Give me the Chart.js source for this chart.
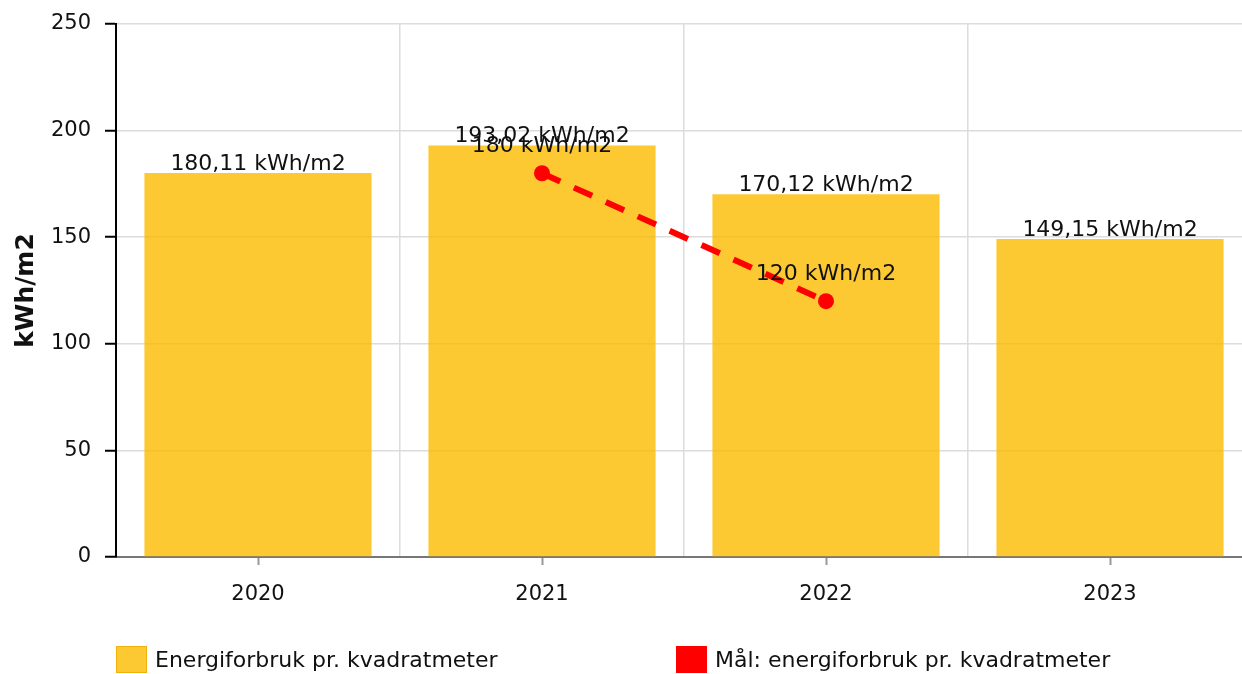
<!DOCTYPE html>
<html>
<head>
<meta charset="utf-8">
<title>Energiforbruk</title>
<script src="https://cdn.jsdelivr.net/npm/chart.js@4.4.1/dist/chart.umd.min.js"></script>
<style>
    html, body { margin: 0; padding: 0; background: #fff; overflow: hidden; }
    #wrap { position: relative; width: 1242px; height: 674px; overflow: hidden; }
    #legend { position: absolute; left: 0; top: 646px; width: 1242px; height: 28px;
              font-family: "DejaVu Sans", Verdana, sans-serif; font-size: 22px; color: #111; }
    .item { position: absolute; top: 0; display: flex; align-items: center; height: 27px; white-space: nowrap; }
    .box { width: 31px; height: 27px; margin-right: 8px; box-sizing: border-box; }
</style>
</head>
<body>
<div id="wrap">
    <canvas id="chartCanvas" width="1260" height="674"></canvas>
    <div id="legend"></div>
</div>
<script>
// Data
const years = ['2020', '2021', '2022', '2023'];
const usage = [180.11, 193.02, 170.12, 149.15];
const target = [null, 180, 120, null];
const yTicks = [0, 50, 100, 150, 200, 250];
const seriesNames = ['Energiforbruk pr. kvadratmeter', 'Mål: energiforbruk pr. kvadratmeter'];

const barColor = 'rgba(251, 188, 0, 0.8)';
const lineColor = '#ff0000';
const font = '"DejaVu Sans", Verdana, sans-serif';

// Value labels drawn above each bar / point
const valueLabels = {
    id: 'valueLabels',
    afterDatasetsDraw(chart) {
        const ctx = chart.ctx;
        ctx.save();
        ctx.font = '22px ' + font;
        ctx.fillStyle = '#111';
        ctx.textAlign = 'center';
        ctx.textBaseline = 'alphabetic';
        chart.data.datasets.forEach((ds, i) => {
            const meta = chart.getDatasetMeta(i);
            meta.data.forEach((el, j) => {
                const v = ds.data[j];
                if (v === null || v === undefined) return;
                if (ds.type === 'bar') {
                    ctx.fillText(v.toFixed(2).replace('.', ',') + ' kWh/m2', el.x, el.y - 3);
                } else {
                    ctx.fillText(v + ' kWh/m2', el.x, el.y - 21);
                }
            });
        });
        ctx.restore();
    }
};

const chart = new Chart(document.getElementById('chartCanvas'), {
    data: {
        labels: years,
        datasets: [
            {
                type: 'line',
                label: seriesNames[1],
                data: target,
                borderColor: lineColor,
                backgroundColor: lineColor,
                borderWidth: 6,
                borderDash: [20, 15],
                pointRadius: 8,
                pointBorderWidth: 0,
                pointBackgroundColor: lineColor,
                order: 0,
            },
            {
                type: 'bar',
                label: seriesNames[0],
                data: usage,
                backgroundColor: barColor,
                barPercentage: 0.8,
                categoryPercentage: 1,
                order: 1,
            },
        ],
    },
    options: {
        responsive: false,
        animation: false,
        layout: { padding: { top: 24, left: 0, right: 0, bottom: 0 } },
        plugins: { legend: { display: false }, tooltip: { enabled: false } },
        scales: {
            x: {
                type: 'category',
                offset: true,
                weight: 0,
                grid: {
                    offset: true,
                    drawTicks: false,
                    color: ctx => (ctx.index === 0 || ctx.index === years.length) ? 'rgba(0,0,0,0)' : '#dcdcdc',
                    lineWidth: 1.5,
                },
                border: { display: false },
                ticks: { display: false },
            },
            x2: {
                type: 'category',
                labels: years,
                position: 'bottom',
                offset: true,
                weight: 1,
                grid: { offset: false, drawOnChartArea: false, tickLength: 8, tickColor: '#999', tickWidth: 2 },
                border: { display: true, color: '#777', width: 2 },
                ticks: { font: { family: font, size: 21 }, color: '#111', padding: 17 },
                afterFit: s => { s.height = 117; },
            },
            y: {
                min: 0,
                max: 250,
                afterBuildTicks: s => { s.ticks = yTicks.map(v => ({ value: v })); },
                grid: { color: '#dcdcdc', lineWidth: 1.5, tickLength: 11, tickColor: '#000', tickWidth: 2 },
                border: { display: true, color: '#000', width: 2 },
                ticks: { font: { family: font, size: 21 }, color: '#111', padding: 14 },
                title: {
                    display: true,
                    text: 'kWh/m2',
                    font: { family: font, size: 25, weight: 'bold' },
                    color: '#111',
                    padding: { top: 11, bottom: 0 },
                },
                afterFit: s => {
                    s.width = 116;
                    s.paddingTop = 0;
                    s.paddingBottom = 0;
                },
            },
        },
    },
    plugins: [valueLabels],
});

// HTML legend
const legendColors = [barColor, lineColor];
const legendLeft = [116, 676];
const legendDiv = document.getElementById('legend');
seriesNames.forEach((name, i) => {
    const item = document.createElement('div');
    item.className = 'item';
    item.style.left = legendLeft[i] + 'px';
    const box = document.createElement('span');
    box.className = 'box';
    box.style.background = legendColors[i];
    if (i === 0) box.style.border = '1px solid rgba(240, 170, 0, 0.8)';
    const label = document.createElement('span');
    label.textContent = name;
    item.appendChild(box);
    item.appendChild(label);
    legendDiv.appendChild(item);
});
</script>
</body>
</html>
